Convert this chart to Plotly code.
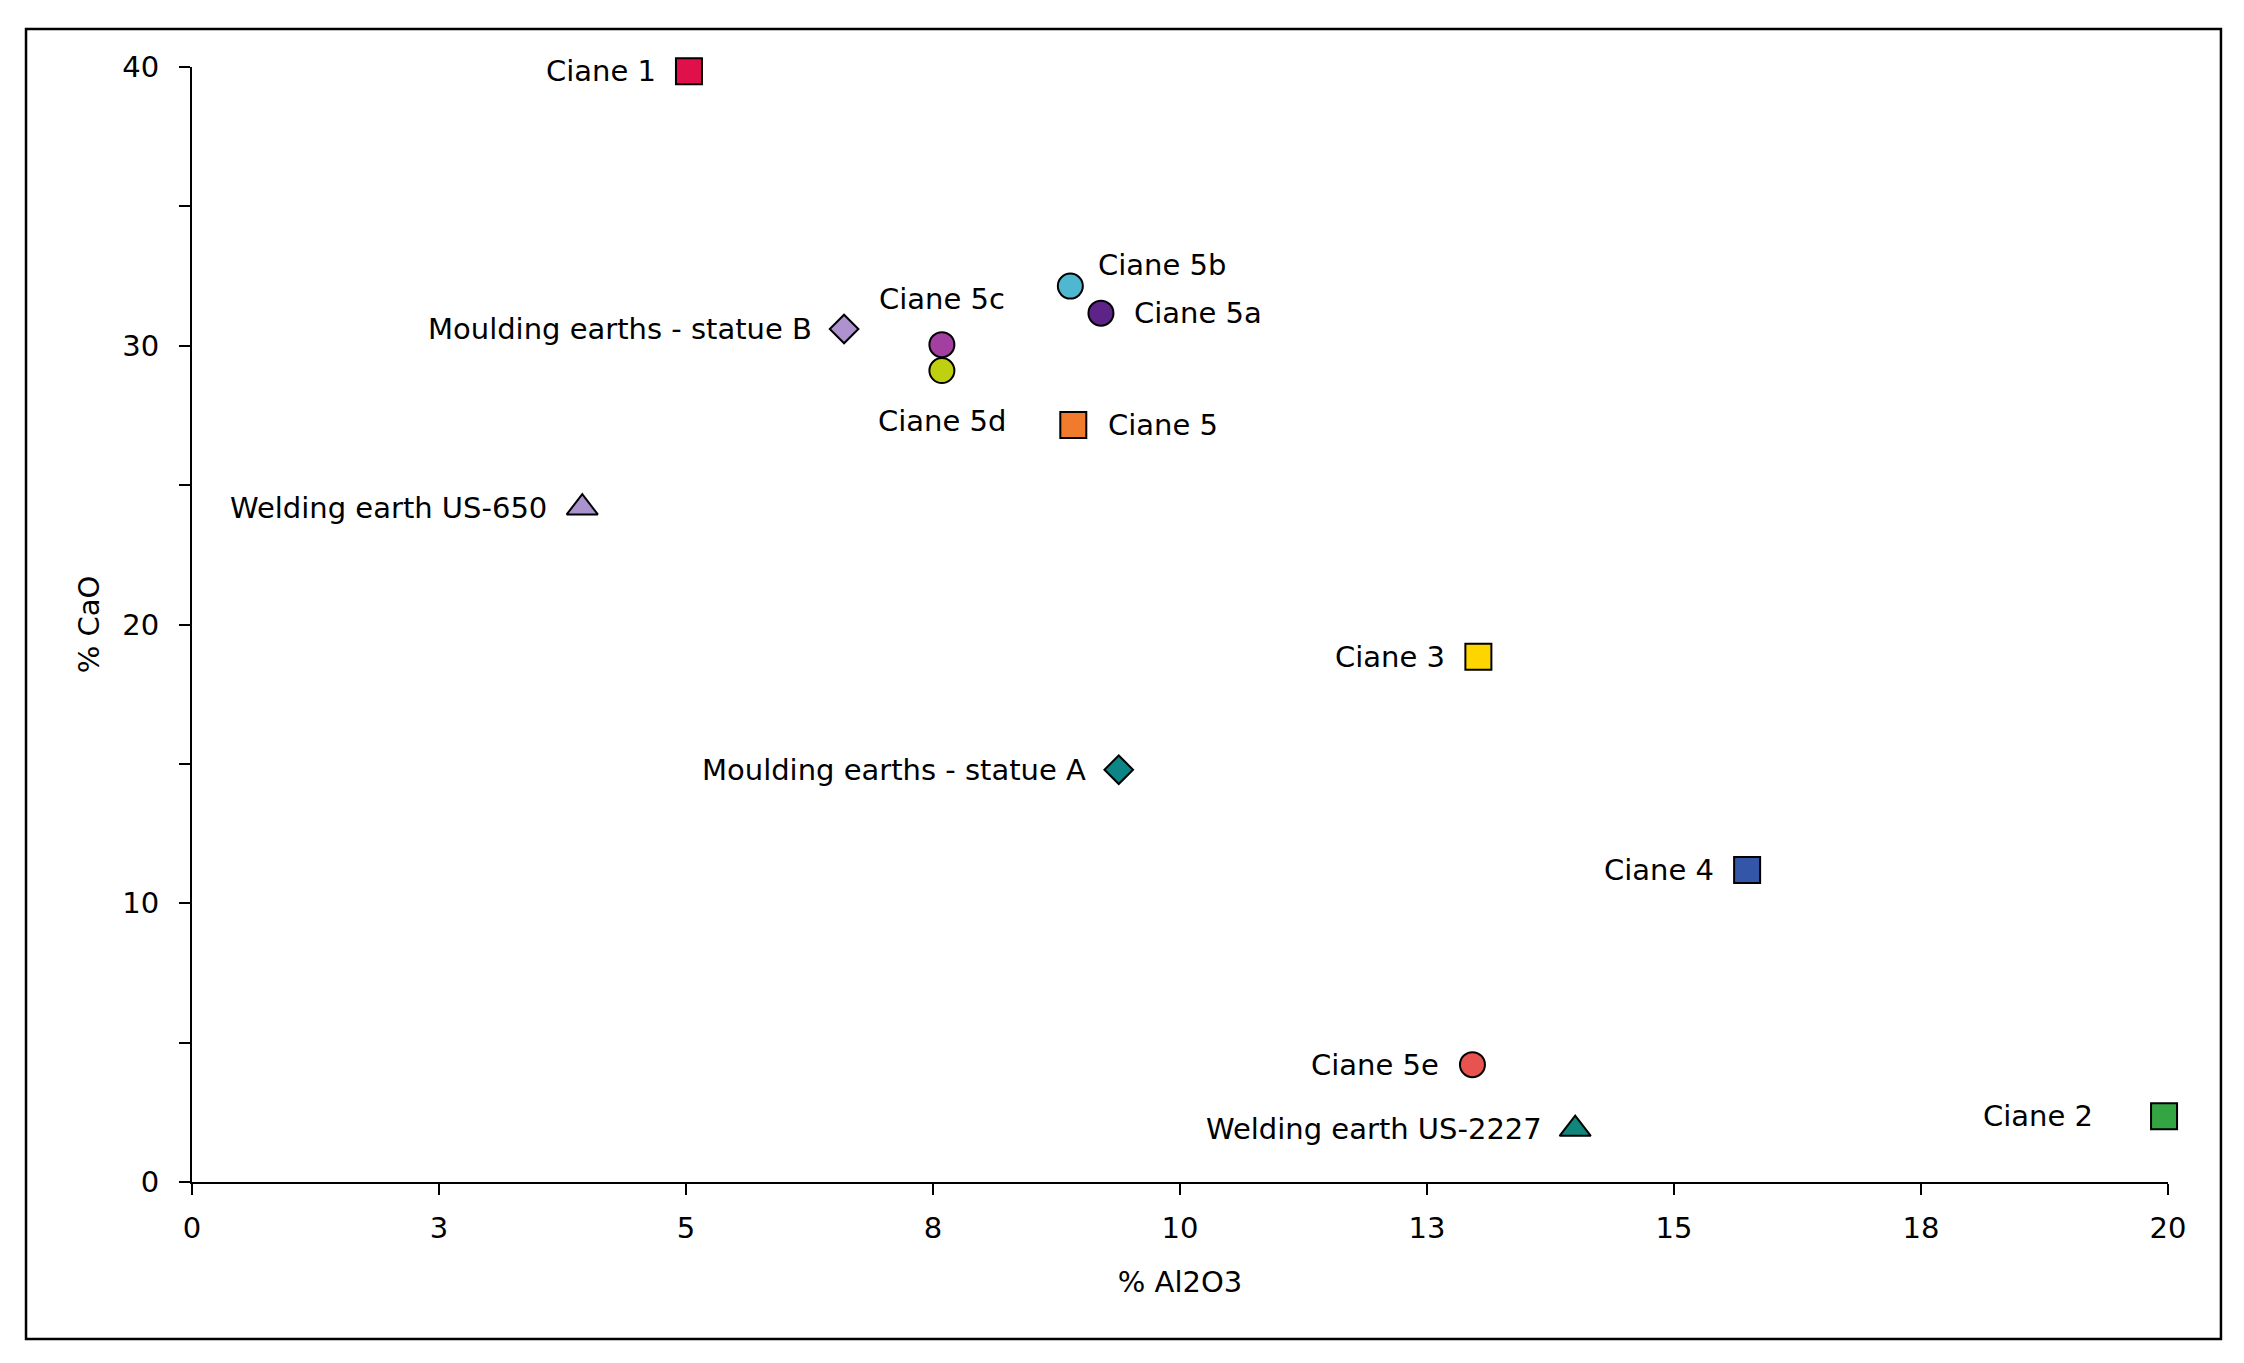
import plotly.graph_objects as go

names = ["Ciane 1", "Ciane 5b", "Ciane 5a", "Ciane 5c", "Moulding earths - statue B",
         "Ciane 5d", "Ciane 5", "Welding earth US-650", "Ciane 3", "Moulding earths - statue A",
         "Ciane 4", "Ciane 5e", "Welding earth US-2227", "Ciane 2"]
al2o3 = [5.03, 8.89, 9.20, 7.59, 6.60, 7.59, 8.92, 3.95, 13.02, 9.38, 15.74, 12.96, 14.00, 19.96]
cao = [39.85, 32.14, 31.17, 30.04, 30.60, 29.11, 27.16, 24.19, 18.84, 14.79, 11.19, 4.21, 1.90, 2.36]
symbols = ["square", "circle", "circle", "circle", "diamond", "circle", "square", "triangle-up",
           "square", "diamond", "square", "circle", "triangle-up", "square"]
colors = ["#E0104A", "#4FB8D0", "#5E2388", "#A23FA0", "#AE92CF", "#BED010", "#F07B2C", "#AA93CC",
          "#FFD500", "#0B8585", "#3456A8", "#E8524F", "#0F877C", "#34A543"]
sizes = [26, 25, 25, 25, 22, 25, 26, 27, 26, 22, 26, 25, 27, 26]

# label placement (anchor, x shift px, y shift px)
anchors = ["right", "left", "left", "center", "right", "center", "left", "right",
           "right", "right", "right", "right", "right", "right"]
xshifts = [-31, 26, 31, 0, -30, 0, 33, -33, -31, -31, -31, -31, -31, -69]
yshifts = [0, 21, 0, 46, 0, -50, 0, 0, 0, 0, 0, 0, 0, 0]

xtickvals = [0, 2.5, 5, 7.5, 10, 12.5, 15, 17.5, 20]
xticktext = ["0", "3", "5", "8", "10", "13", "15", "18", "20"]
ytickvals = [0, 10, 20, 30, 40]

font = "DejaVu Sans"
fs = 29

fig = go.Figure()
fig.add_trace(go.Scatter(
    x=al2o3, y=cao, mode="markers",
    marker=dict(symbol=symbols, color=colors, size=sizes, opacity=1,
                line=dict(color="black", width=2)),
    cliponaxis=False, showlegend=False,
))

annotations = []
for xv, yv, t, a, dx, dy in zip(al2o3, cao, names, anchors, xshifts, yshifts):
    annotations.append(dict(x=xv, y=yv, xref="x", yref="y", text=t, showarrow=False,
                            xanchor=a, yanchor="middle", xshift=dx, yshift=dy,
                            font=dict(family=font, size=fs, color="black")))

fig.update_layout(
    width=2236, height=1355,
    margin=dict(l=184, r=76, t=59, b=181),
    paper_bgcolor="white", plot_bgcolor="white",
    font=dict(family=font, size=fs, color="black"),
    annotations=annotations,
    xaxis=dict(range=[0, 20], tickvals=xtickvals, ticktext=xticktext, showgrid=False,
               zeroline=False, showline=True, linecolor="black", linewidth=2,
               ticks="outside", ticklen=11, tickwidth=2, tickcolor="black",
               tickfont=dict(size=fs), ticklabelstandoff=8,
               title=dict(text="% Al2O3", font=dict(size=29), standoff=28)),
    yaxis=dict(range=[0, 40], tickvals=ytickvals, showgrid=False, zeroline=False,
               showline=True, linecolor="black", linewidth=2,
               ticks="outside", ticklen=11, tickwidth=2, tickcolor="black",
               tickfont=dict(size=fs), ticklabelstandoff=14,
               minor=dict(tickvals=[5, 15, 25, 35], ticks="outside", ticklen=11,
                          tickwidth=2, tickcolor="black", showgrid=False),
               title=dict(text="% CaO", font=dict(size=29), standoff=14)),
    shapes=[dict(type="rect", xref="paper", yref="paper", x0=-0.084, x1=1.0268,
                 y0=-0.1408, y1=1.034, line=dict(color="black", width=2.5))],
)

fig.write_html("out.html")
